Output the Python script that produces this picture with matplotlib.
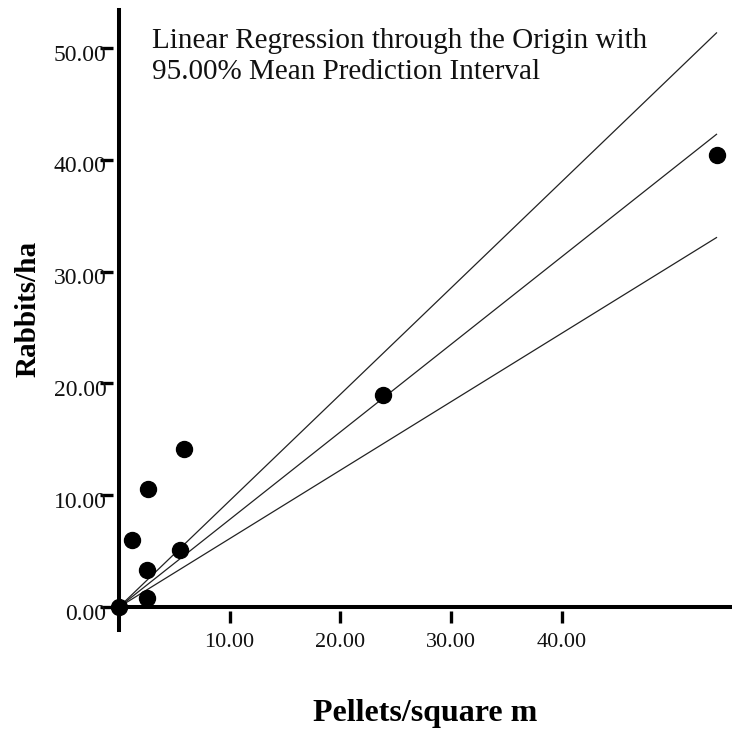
import matplotlib
matplotlib.use("Agg")
import matplotlib.pyplot as plt
import matplotlib.transforms as mtransforms
import numpy as np

# data
pellets = [0.0, 1.2, 2.6, 5.9, 2.5, 5.5, 2.5, 23.9, 54.0]
rabbits = [0.0, 6.0, 10.6, 14.1, 3.3, 5.1, 0.8, 19.0, 40.4]

# fitted slope and 95% mean prediction interval slopes (line through origin)
fit_slope = 0.783
lower_slope = 0.612
upper_slope = 0.951

y_ticks = [0, 10, 20, 30, 40, 50]
x_ticks = [10, 20, 30, 40]

W, H = 732, 731
fig = plt.figure(figsize=(W / 100, H / 100), dpi=100)
# axes box in pixels: x from 119 to 732, y from 10 to 630
ax = fig.add_axes([119 / W, (H - 630) / H, (732 - 119) / W, 620 / H])

serif = ["Liberation Serif", "DejaVu Serif"]

ax.set_xlim(0, 55.4)
ax.set_ylim(-2.05, 53.4)

# regression line and interval
xl = np.array([0.0, max(pellets)])
for s in (upper_slope, fit_slope, lower_slope):
    ax.plot(xl, s * xl, color="#222222", lw=0.9, zorder=2)

ax.scatter(pellets, rabbits, s=11.5 ** 2, color="black", zorder=4, clip_on=False)

# axis lines (ticks sit a little away from them, as in the original)
ax.axvline(0, color="black", lw=2.9, zorder=3, clip_on=False)
ax.axhline(0, color="black", lw=2.9, zorder=3, clip_on=False)

for side in ("top", "right"):
    ax.spines[side].set_visible(False)
ax.spines["left"].set_position(("outward", 4))
ax.spines["left"].set_visible(False)
ax.spines["bottom"].set_position(("data", -0.35))
ax.spines["bottom"].set_visible(False)

ax.set_yticks(y_ticks)
ax.set_yticklabels([f"{v:.2f}" for v in y_ticks])
ax.set_xticks(x_ticks)
ax.set_xticklabels([f"{v:.2f}" for v in x_ticks])

ax.tick_params(axis="y", direction="out", length=9.4, width=2.4, pad=-4.3,
               labelsize=17)
ax.tick_params(axis="x", direction="out", length=8.6, width=2.4, pad=7,
               labelsize=16)
for lab in ax.get_yticklabels() + ax.get_xticklabels():
    lab.set_fontfamily(serif)
    lab.set_color("#111111")
# y labels sit a bit below their ticks
shift = mtransforms.ScaledTranslation(0, -4.5 / 100, fig.dpi_scale_trans)
for lab in ax.get_yticklabels():
    lab.set_transform(lab.get_transform() + shift)

fig.text(152 / W, 1 - 28 / H,
         "Linear Regression through the Origin with\n95.00% Mean Prediction Interval",
         ha="left", va="top", fontsize=21, family=serif, color="#111111",
         linespacing=1.25)

fig.text(28 / W, 1 - 309 / H, "Rabbits/ha", rotation=90, ha="center",
         va="center", fontsize=21, fontweight="bold", family=serif)
fig.text(425 / W, 1 - 714 / H, "Pellets/square m", ha="center", va="center",
         fontsize=23, fontweight="bold", family=serif)

fig.savefig("out.png", dpi=100)
